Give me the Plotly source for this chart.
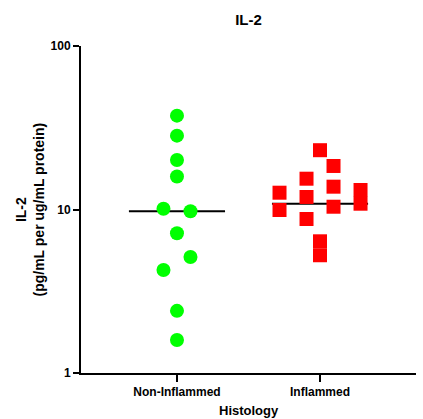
import plotly.graph_objects as go

categories = ["Non-Inflammed", "Inflammed"]

non_inflamed_values = [37.5, 28.3, 20.1, 15.9, 10.1, 9.75, 7.15, 5.12, 4.27, 2.40, 1.59]
non_inflamed_slots = [0, 0, 0, 0, -1, 1, 0, 1, -1, 0, 0]

inflamed_values = [23.05, 18.46, 15.43, 12.67, 13.79, 11.93, 9.93, 10.40, 13.16, 10.85, 8.75, 6.39, 5.25]
inflamed_slots = [0, 1, -1, -3, 1, -1, -3, 1, 3, 3, -1, 0, 0]

medians = [9.75, 10.85]

y_tick_values = [1, 10, 100]
y_tick_labels = ["1", "10", "100"]

FONT = "Liberation Sans, Arial, sans-serif"
SLOT = 0.0944      # horizontal spacing of swarm columns (category units)
HALF = 0.336       # half width of median line

fig = go.Figure()

# median lines (drawn first, behind markers)
for i, m in enumerate(medians):
    fig.add_trace(go.Scatter(
        x=[i - HALF, i + HALF], y=[m, m], mode="lines",
        line=dict(color="black", width=2), showlegend=False, hoverinfo="skip"))

fig.add_trace(go.Scatter(
    x=[0 + s * SLOT for s in non_inflamed_slots], y=non_inflamed_values,
    mode="markers", marker=dict(symbol="circle", size=14, color="#00FF00", line=dict(width=0)),
    showlegend=False, name=categories[0]))

fig.add_trace(go.Scatter(
    x=[1 + s * SLOT for s in inflamed_slots], y=inflamed_values,
    mode="markers", marker=dict(symbol="square", size=14, color="#FF0000", line=dict(width=0)),
    showlegend=False, name=categories[1]))

fig.update_layout(
    width=423, height=419,
    margin=dict(l=81, r=7, t=46, b=46),
    plot_bgcolor="white", paper_bgcolor="white",
    font=dict(family=FONT, color="black"),
    title=dict(text="IL-2", x=(248 - 81) / 335 * 0 + 0.5, xref="paper", xanchor="center",
               y=1 - 20 / 419, yref="container", yanchor="middle",
               font=dict(size=15, weight="bold", family=FONT, color="black")),
    xaxis=dict(
        range=[-0.671, 1.671], tickmode="array", tickvals=[0, 1], ticktext=categories,
        showline=True, linecolor="black", linewidth=2, ticks="outside", ticklen=7,
        tickwidth=2, tickcolor="black", showgrid=False, zeroline=False,
        tickfont=dict(size=12, weight="bold", family=FONT, color="black")),
    yaxis=dict(
        type="log", range=[0, 2], tickmode="array", tickvals=y_tick_values, ticktext=y_tick_labels,
        showline=True, linecolor="black", linewidth=2, ticks="outside", ticklen=6,
        tickwidth=2, tickcolor="black", showgrid=False, zeroline=False,
        tickfont=dict(size=12, weight="bold", family=FONT, color="black")),
    annotations=[
        dict(text="IL-2<br>(pg/mL per ug/mL protein)", textangle=-90,
             xref="paper", yref="paper", x=(29 - 81) / 335, y=0.5,
             xanchor="center", yanchor="middle", showarrow=False,
             font=dict(size=14, weight="bold", family=FONT, color="black")),
        dict(text="Histology", xref="paper", yref="paper", x=0.5, y=(373 - 410) / 327,
             xanchor="center", yanchor="middle", showarrow=False,
             font=dict(size=13, weight="bold", family=FONT, color="black")),
    ],
)

fig.write_html("out.html")
